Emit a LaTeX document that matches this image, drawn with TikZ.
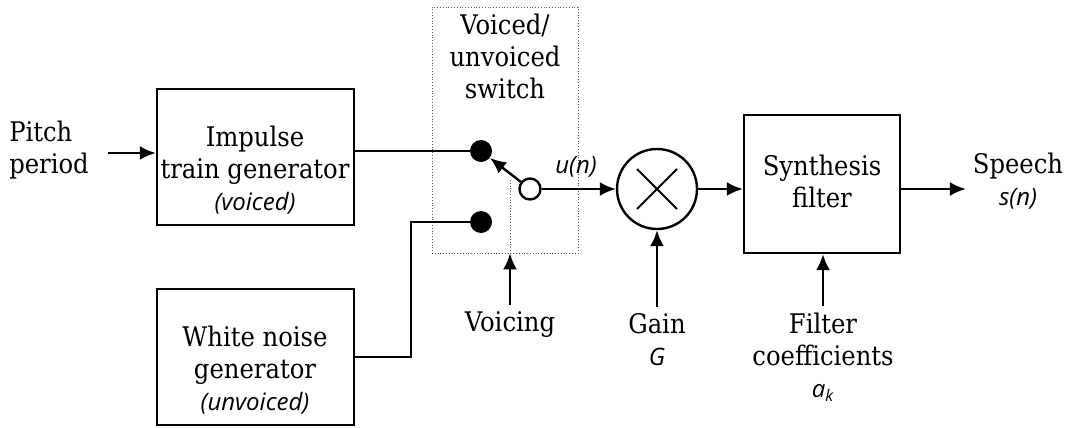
\documentclass[tikz,border=0pt]{standalone}
\usepackage{fontspec}
\setmainfont{DejaVu Serif Condensed}
\newfontfamily\sigf{Open Sans}
\usetikzlibrary{arrows.meta}
\tikzset{
	blk/.style={draw, line width=1.2pt, minimum width=98.5pt, minimum height=68pt},
	lbl/.style={align=center, font=\fontsize{13.5}{16}\selectfont},
	wire/.style={line width=1.2pt},
	arr/.style={wire, -{Latex[length=8pt,width=7pt]}},
	dot/.style={circle, fill, inner sep=0pt, minimum size=11pt},
}
\newcommand{\sg}[1]{{\fontsize{12}{15}\sigf\itshape #1}}
\begin{document}
\begin{tikzpicture}[x=0.5pt, y=-0.5pt]
				\useasboundingbox (0,0) rectangle (1070,428);
				
				% blocks
				\node[blk] (impulse) at (255.5,157) {};
				\node[blk] (noise) at (255.5,357) {};
				\node[blk, minimum width=78pt, minimum height=69pt] (synth) at (822,184) {};
				\node[circle, draw, line width=1.2pt, minimum size=40pt, inner sep=0pt] (mult) at (657,189) {};
				\draw[line width=1pt] (mult) ++(-20,-20) -- ++(40,40);
				\draw[line width=1pt] (mult) ++(-20,20) -- ++(40,-40);
				
				% switch
				\node[draw, densely dotted, gray!70!black, minimum width=73pt, minimum height=123pt] (swbox) at (505,130) {};
				\node[dot] (dotV) at (481,151) {};
				\node[dot] (dotU) at (481,222) {};
				\node[circle, draw, line width=1.2pt, fill=white, inner sep=0pt, minimum size=10.5pt] (sw) at (530,189) {};
				\coordinate (lever) at (510,180);
				\draw[densely dotted, gray!70!black] (lever) -- (lever |- swbox.south);
				
				% texts
				\node[lbl] (impulsetxt) at (255,170) {Impulse\\train generator\\\sg{(voiced)}};
				\node[lbl] (noisetxt) at (255,370) {White noise\\generator\\\sg{(unvoiced)}};
				\node[lbl] (synthtxt) at (822,181) {Synthesis\\filter};
				\node[lbl] (swtxt) at (505,56) {Voiced/\\unvoiced\\switch};
				\node[lbl, align=left] (pitch) at (49,150) {Pitch\\period};
				\node[lbl] (voicing) at (510,325) {Voicing};
				\node[lbl] (gain) at (657,340) {Gain\\\sg{G}};
				\node[lbl] (coeff) at (823,357) {Filter\\coefficients\\\sg{a\textsubscript{k}}};
				\node[lbl] (speech) at (1018,181) {Speech\\\sg{s(n)}};
				\node (un) at (576,167) {\sg{u(n)}};
				
				% connections
				\draw[arr] (108,153) -- (impulse.west |- 0,153);
				\draw[wire] (impulse.east |- dotV) -- (dotV);
				\draw[wire] (noise.east) -- ++(56,0) |- (dotU);
				\draw[arr] (sw) -- (dotV);
				\draw[arr] (sw) -- (mult);
				\draw[arr] (voicing.north) -- (voicing.north |- swbox.south);
				\draw[arr] (gain.north) -- (mult);
				\draw[arr] (mult) -- (mult -| synth.west);
				\draw[arr] (coeff.north) -- (coeff.north |- synth.south);
				\draw[arr] (synth.east |- mult) -- (speech.west |- mult);
				\end{tikzpicture}
\end{document}
